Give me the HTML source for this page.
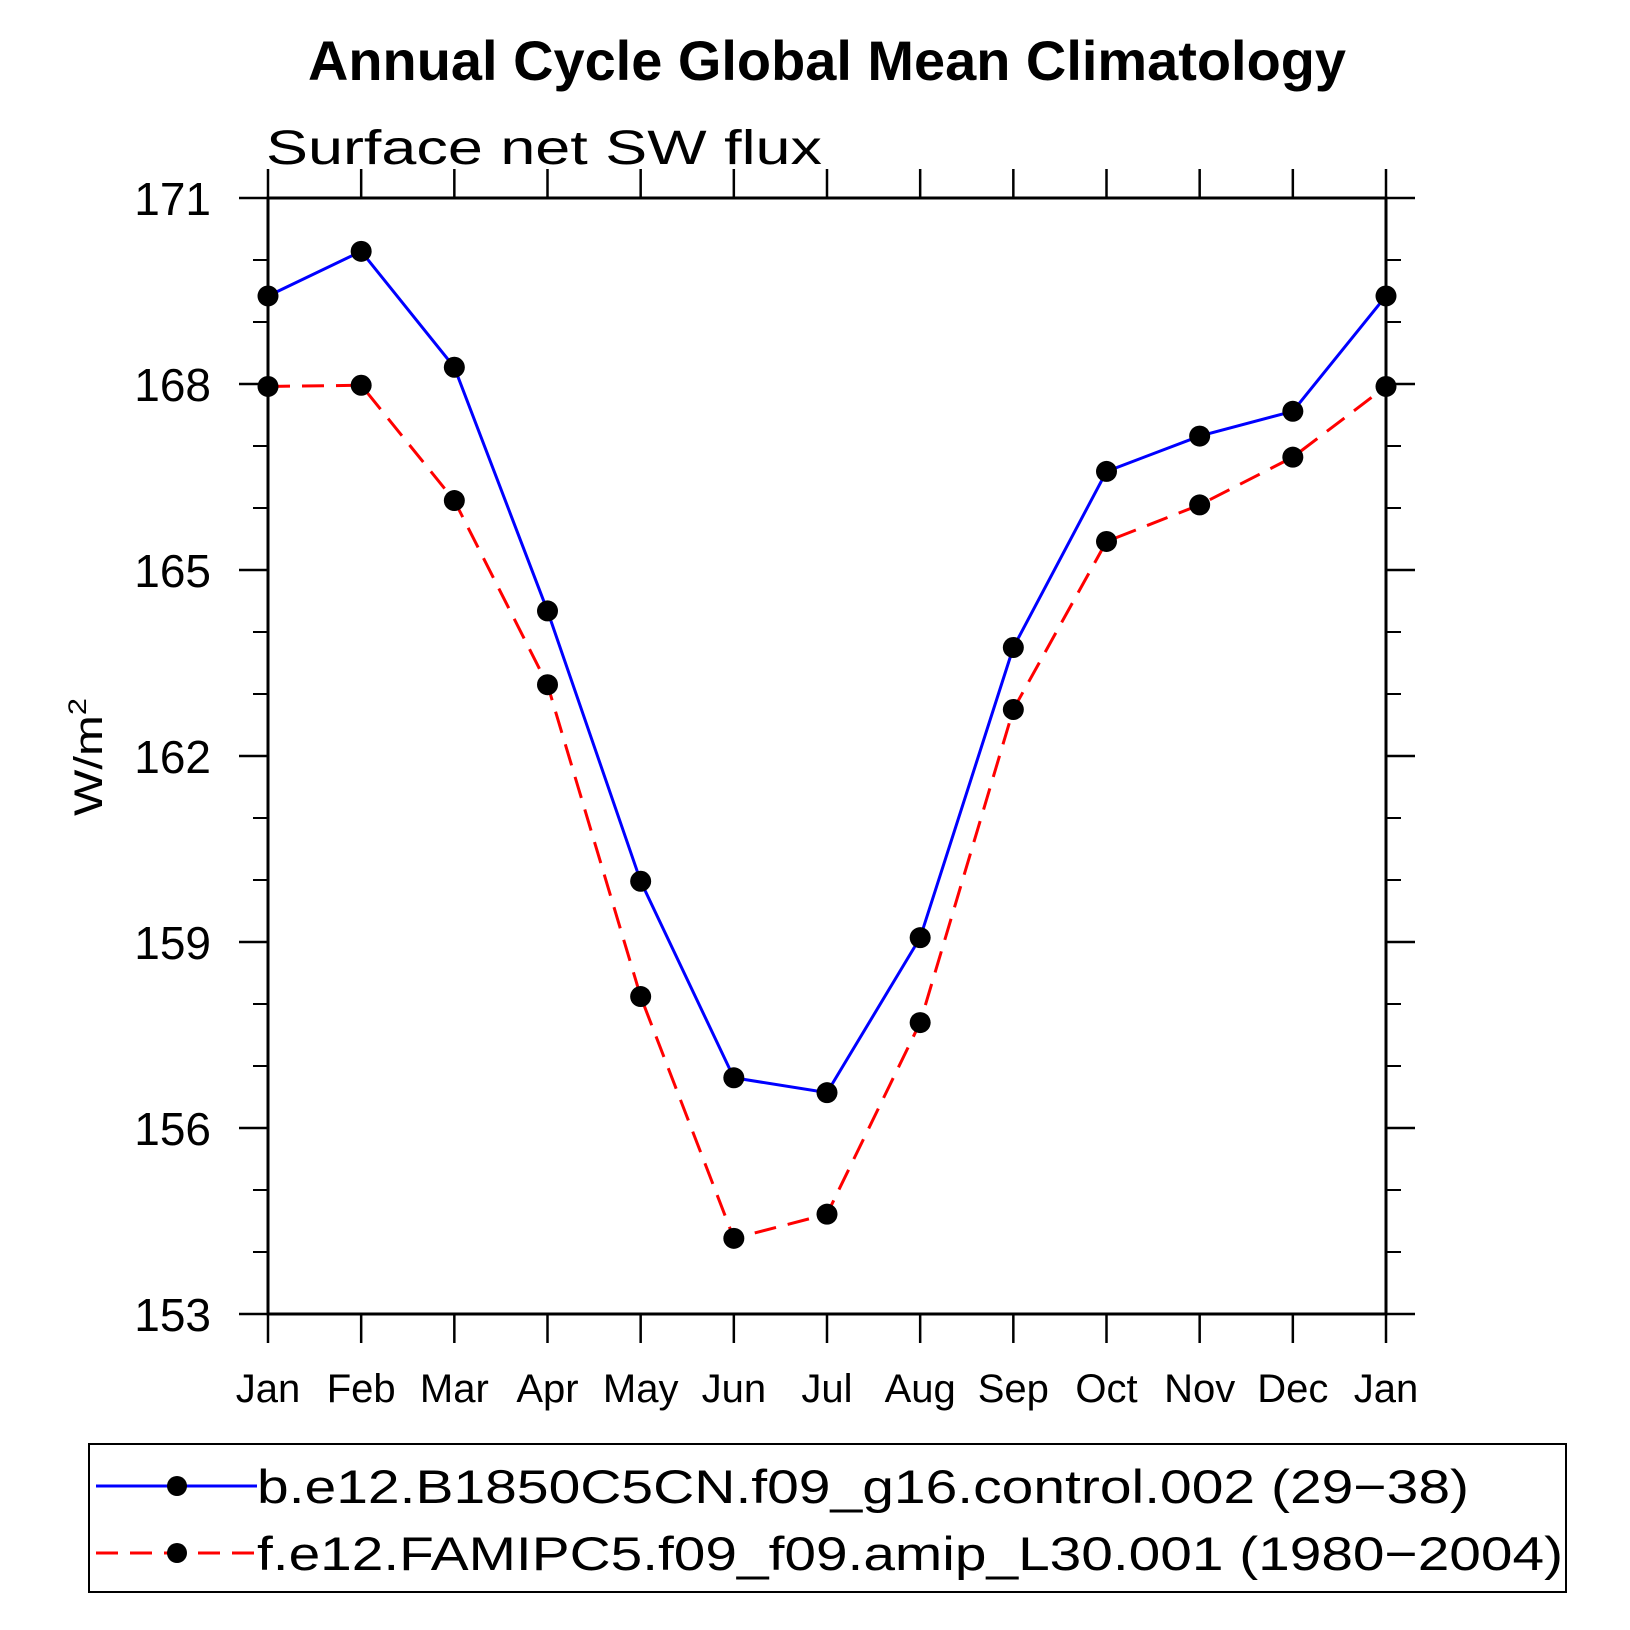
<!DOCTYPE html>
<html><head><meta charset="utf-8"><style>
html,body{margin:0;padding:0;background:#fff}
svg{display:block}
text{font-family:"Liberation Sans",sans-serif}
</style></head><body>
<svg id="chart" width="1630" height="1630" viewBox="0 0 1630 1630" xmlns="http://www.w3.org/2000/svg">
<text x="827" y="80" text-anchor="middle" font-size="56" font-weight="bold" textLength="1038" lengthAdjust="spacingAndGlyphs">Annual Cycle Global Mean Climatology</text>
<text x="266" y="164" font-size="48" font-weight="300" textLength="556" lengthAdjust="spacingAndGlyphs">Surface  net  SW  flux</text>
<text transform="translate(102,757) rotate(-90)" text-anchor="middle" font-size="40" textLength="118" lengthAdjust="spacingAndGlyphs">W/m<tspan dy="-16" font-size="25">2</tspan></text>
<g id="axes"></g>
<g id="series"></g>
<g id="legend">
<rect x="89" y="1444" width="1477" height="148" fill="none" stroke="#000" stroke-width="2"/>
<line x1="96" y1="1486" x2="257" y2="1486" stroke="#00f" stroke-width="3"/>
<circle cx="177" cy="1486" r="10" fill="#000"/>
<text x="257" y="1503" font-size="47" textLength="1212" lengthAdjust="spacingAndGlyphs">b.e12.B1850C5CN.f09_g16.control.002 (29−38)</text>
<line x1="96" y1="1553" x2="257" y2="1553" stroke="#f00" stroke-width="3" stroke-dasharray="22,12"/>
<circle cx="177" cy="1553" r="10" fill="#000"/>
<text x="257" y="1570" font-size="47" textLength="1306" lengthAdjust="spacingAndGlyphs">f.e12.FAMIPC5.f09_f09.amip_L30.001 (1980−2004)</text>
</g>
</svg>
<script>
const months = ["Jan","Feb","Mar","Apr","May","Jun","Jul","Aug","Sep","Oct","Nov","Dec","Jan"];
const controlValues = [169.42,170.14,168.27,164.34,159.98,156.81,156.57,159.07,163.75,166.59,167.16,167.56,169.42];
const amipValues = [167.96,167.98,166.12,163.15,158.12,154.22,154.61,157.70,162.75,165.46,166.05,166.82,167.96];
const yTickLabels = [153,156,159,162,165,168,171];
const yMinorTicks = [154,155,157,158,160,161,163,164,166,167,169,170];

const NS="http://www.w3.org/2000/svg";
const L=268,R=1386,T=198,B=1314,yMin=153,yMax=171;
const xs=i=>L+(R-L)*i/(months.length-1);
const ys=v=>B-(B-T)*(v-yMin)/(yMax-yMin);
function mk(tag,attrs,parent){const e=document.createElementNS(NS,tag);for(const k in attrs)e.setAttribute(k,attrs[k]);parent.appendChild(e);return e;}
const ax=document.getElementById('axes');
let e=mk('rect',{x:L,y:T,width:R-L,height:B-T,fill:'none',stroke:'#000','stroke-width':3},ax);


months.forEach((m,i)=>{
  const x=xs(i);
  let t=mk('line',{x1:x,y1:B,x2:x,y2:B+29,stroke:'#000','stroke-width':2.5},ax);
  
  
  t=mk('line',{x1:x,y1:T,x2:x,y2:T-29,stroke:'#000','stroke-width':2.5},ax);
  
  
  const lb=mk('text',{x:x,y:1402,'text-anchor':'middle','font-size':40,'font-weight':300},ax);
  lb.textContent=m;
  
  
});
yTickLabels.forEach(v=>{
  const y=ys(v);
  let t=mk('line',{x1:L-29,y1:y,x2:L,y2:y,stroke:'#000','stroke-width':2.5},ax);
  
  
  t=mk('line',{x1:R,y1:y,x2:R+29,y2:y,stroke:'#000','stroke-width':2.5},ax);
  
  
  const lb=mk('text',{x:211,y:y+17,'text-anchor':'end','font-size':46,'font-weight':300},ax);
  lb.textContent=v;
  
  
});
yMinorTicks.forEach(v=>{
  const y=ys(v);
  let t=mk('line',{x1:L-15,y1:y,x2:L,y2:y,stroke:'#000','stroke-width':2},ax);
  
  
  t=mk('line',{x1:R,y1:y,x2:R+15,y2:y,stroke:'#000','stroke-width':2},ax);
  
  
});
const sg=document.getElementById('series');
function series(vals,color,dash,name){
  const pts=vals.map((v,i)=>xs(i)+','+ys(v)).join(' ');
  const a={points:pts,fill:'none',stroke:color,'stroke-width':3};
  if(dash)a['stroke-dasharray']=dash;
  const pl=mk('polyline',a,sg);
  
  
  vals.forEach((v,i)=>{
    const c=mk('circle',{cx:xs(i),cy:ys(v),r:10.5,fill:'#000'},sg);
    
    
  });
}
series(controlValues,'#00f',null,'control');
series(amipValues,'#f00','22,12','amip');
</script>
</body></html>
